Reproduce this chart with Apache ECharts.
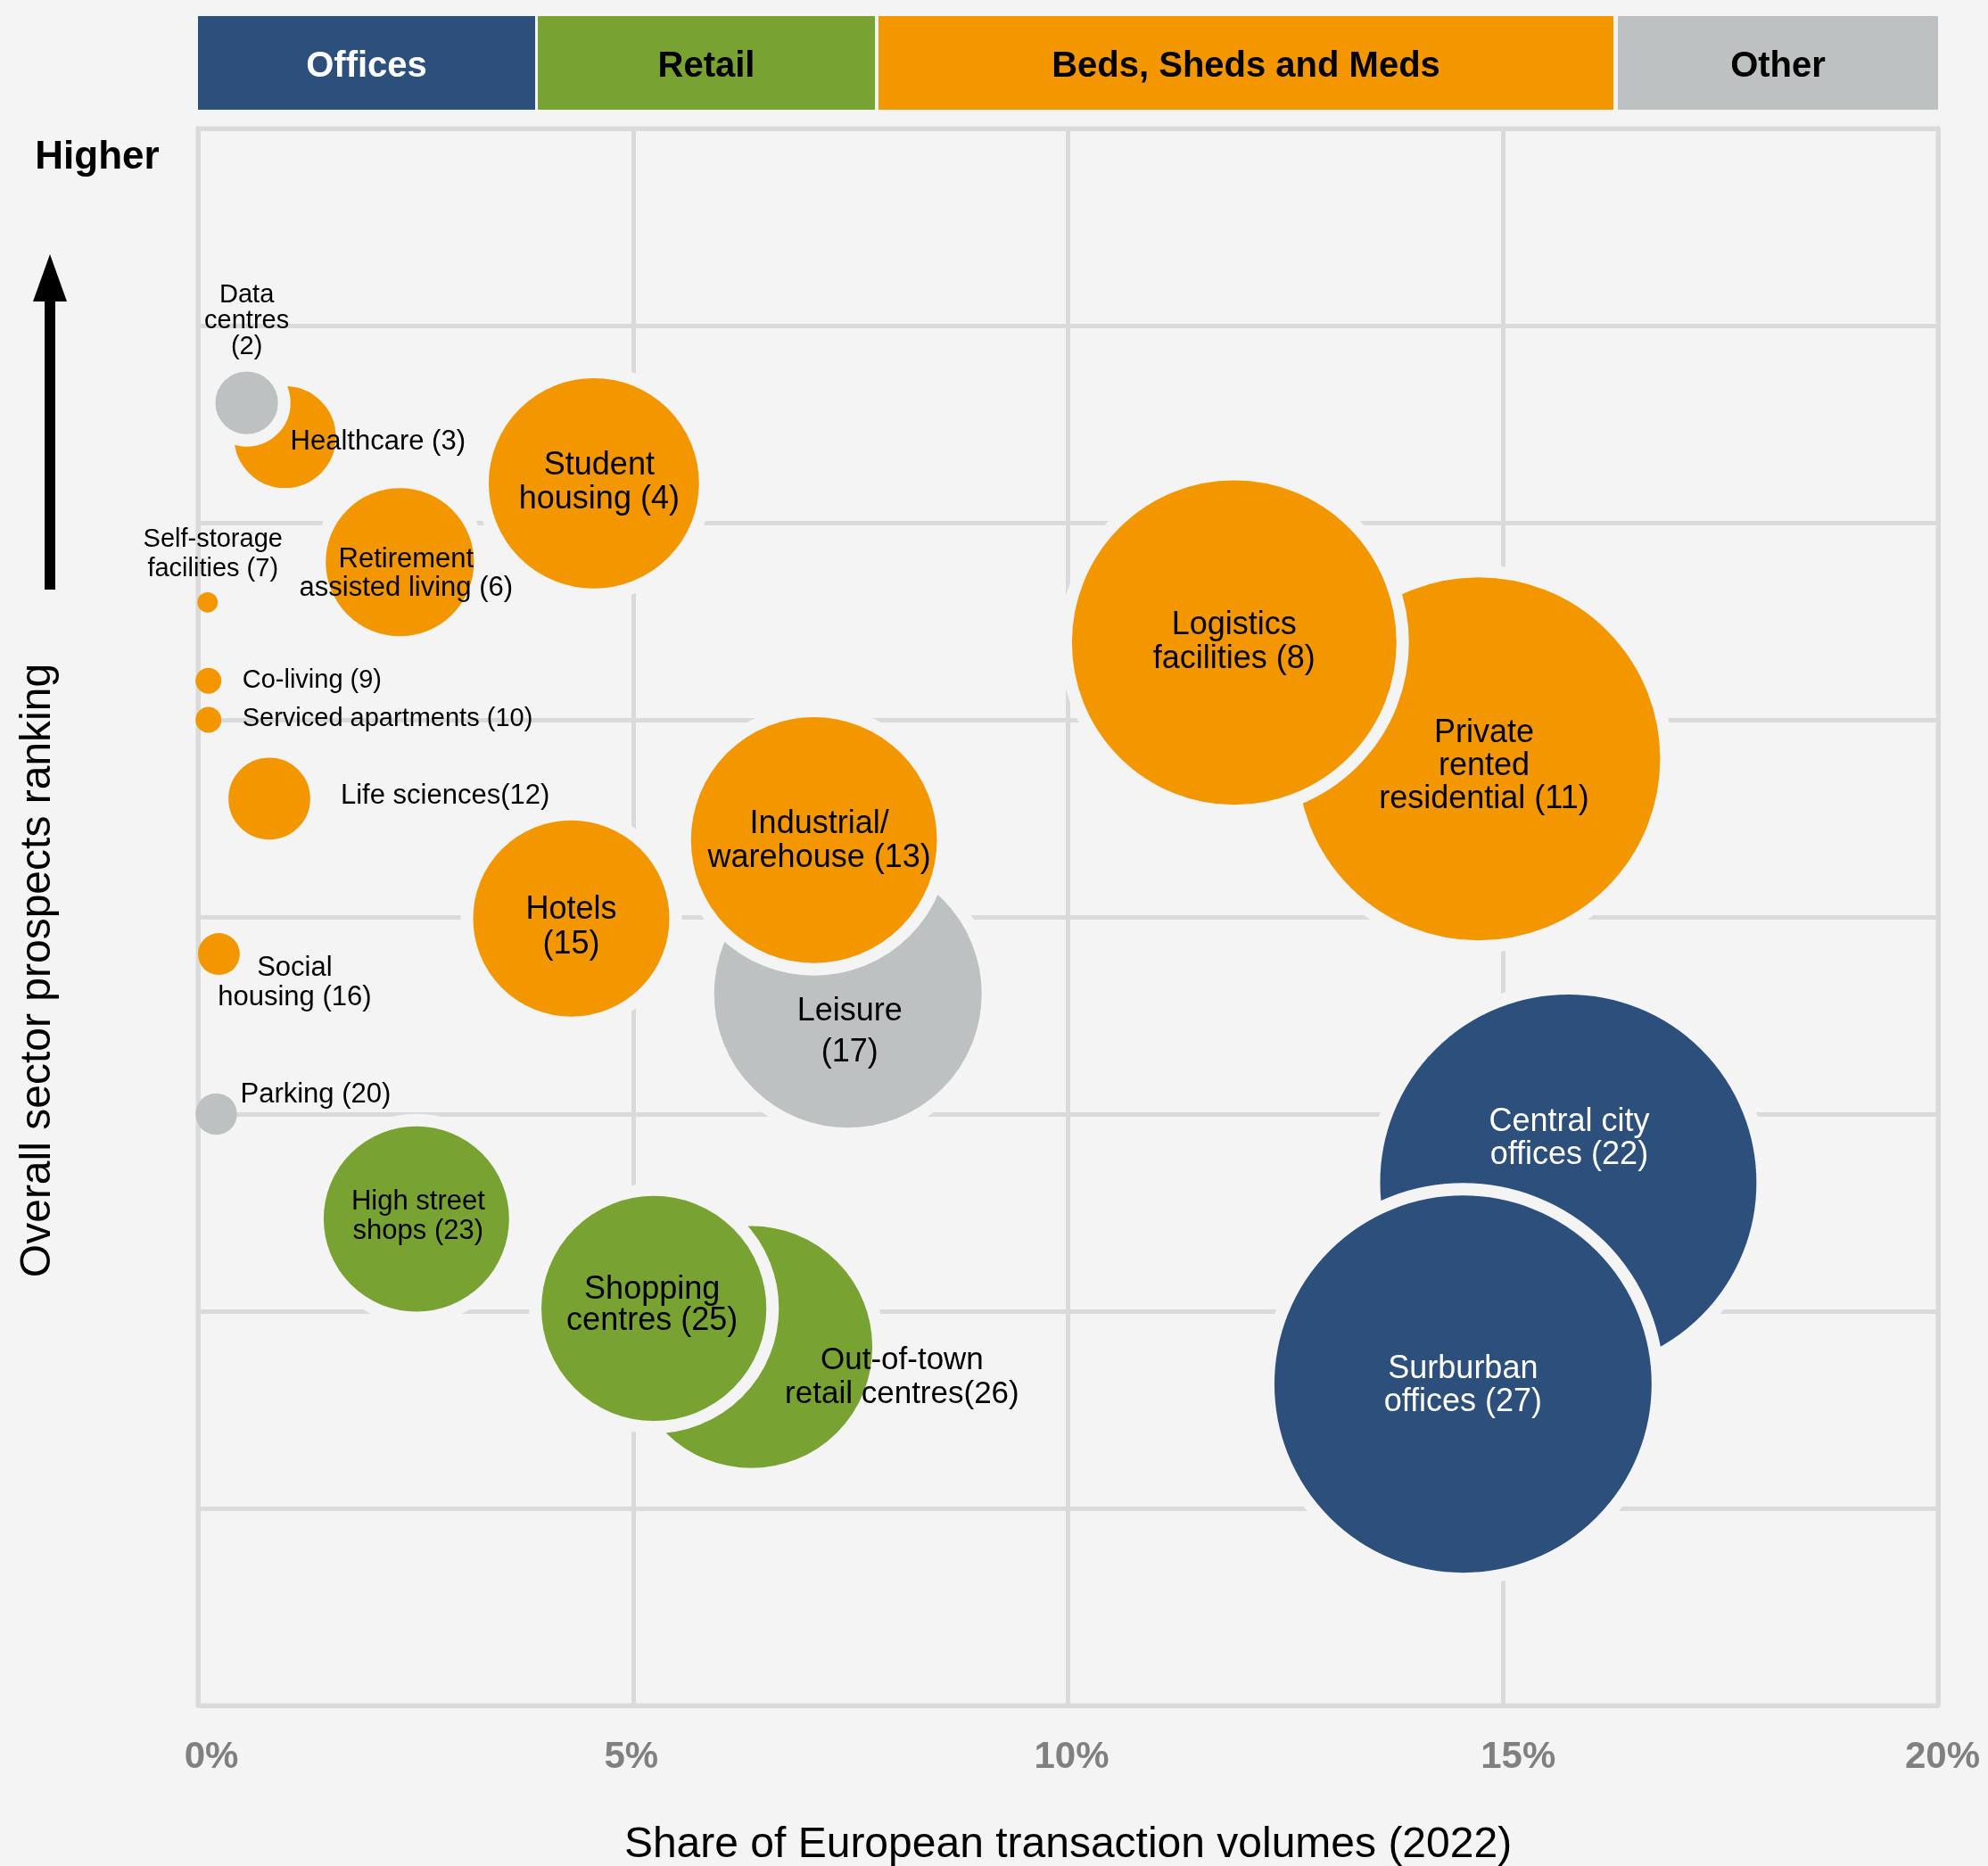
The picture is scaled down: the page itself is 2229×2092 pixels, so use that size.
<!DOCTYPE html>
<html>
<head>
<meta charset="utf-8">
<script src="https://cdn.jsdelivr.net/npm/echarts@6/dist/echarts.min.js"></script>
<style>
  html, body { margin: 0; padding: 0; background: #f4f4f4; }
  #chart { width: 2229px; height: 2092px; }
</style>
</head>
<body>
<div id="chart"></div>
<script>
// sectors, drawn in this order (later ones sit on top)
const sectorLabels = [
    'Self-storage\nfacilities (7)',
    'Co-living (9)',
    'Serviced apartments (10)',
    'Life sciences(12)',
    'Social\nhousing (16)',
    'Parking (20)',
    'Healthcare (3)',
    'Data\ncentres\n(2)',
    'Student\nhousing (4)',
    'Retirement\nassisted living (6)',
    'Private\nrented\nresidential (11)',
    'Logistics\nfacilities (8)',
    'Leisure\n(17)',
    'Industrial/\nwarehouse (13)',
    'Hotels\n(15)',
    'High street\nshops (23)',
    'Out-of-town\nretail centres(26)',
    'Shopping\ncentres (25)',
    'Central city\noffices (22)',
    'Surburban\noffices (27)'
];
const sectorGroup = [
    'Beds', 'Beds', 'Beds', 'Beds', 'Beds', 'Other', 'Beds', 'Other', 'Beds', 'Beds',
    'Beds', 'Beds', 'Other', 'Beds', 'Beds', 'Retail', 'Retail', 'Retail', 'Offices', 'Offices'
];
// share of European transaction volumes (%)
const volumeShare = [
    0.11, 0.12, 0.12, 0.82, 0.24, 0.21, 1.0, 0.56, 4.55, 2.32,
    14.72, 11.91, 7.47, 7.08, 4.29, 2.51, 6.36, 5.24, 15.75, 14.54
];
// overall prospects ranking
const prospectsRank = [
    7.02, 9.01, 10.0, 12.0, 15.94, 20.0, 2.83, 1.96, 4.0, 6.0,
    10.99, 8.04, 16.95, 13.05, 15.04, 22.66, 25.91, 24.93, 21.74, 26.85
];
// bubble size value
const bubbleValue = [
    1.3, 2.1, 2.1, 21, 5.5, 5.4, 32.5, 12.3, 139, 69,
    414, 331, 225, 190, 121, 108, 184, 159, 445, 447
];
const xTicks = [0, 5, 10, 15, 20];

const groupColors = {
    Offices: '#2c4f7c',
    Retail: '#78a232',
    Beds: '#f39700',
    Other: '#bec1c2'
};

// label placement for each sector (same order as above)
const labelLayout = [
    { size: 29, lh: 33, offset: [6, -54] },
    { size: 29, align: 'left', offset: [38, 0] },
    { size: 29, align: 'left', offset: [38, -1] },
    { size: 31, align: 'left', offset: [80, -3] },
    { size: 31, lh: 33, offset: [85, 32] },
    { size: 31, align: 'left', offset: [27, -22] },
    { size: 31, align: 'left', offset: [6, 5] },
    { size: 29, lh: 29, offset: [0, -92] },
    { size: 36, lh: 38, offset: [6, -1] },
    { size: 31, lh: 32, offset: [7, 13] },
    { size: 36, lh: 37, offset: [6, 8] },
    { size: 36, lh: 38, offset: [0, 0] },
    { size: 36, lh: 46, offset: [2, 43] },
    { size: 36, lh: 38, offset: [6, 1] },
    { size: 36, lh: 39, offset: [0, 10] },
    { size: 31, lh: 33, offset: [2, -3] },
    { size: 35, lh: 38, offset: [169, 34] },
    { size: 36, lh: 35, offset: [-2, -3] },
    { size: 36, lh: 37, offset: [1, -49], color: '#ffffff' },
    { size: 36, lh: 37, offset: [0, 2], color: '#ffffff' }
];

// x tick label nudges (as in the original artwork)
const tickNudge = { 0: 15, 5: -2, 10: 4, 15: 17, 20: 5 };

const FONT = "'Liberation Sans', Arial, Helvetica, sans-serif";
const BG = '#f4f4f4';
const BORDER = 14;

const chartDom = document.getElementById('chart');
const myChart = echarts.init(chartDom);

function borderFor(v) {
    return v < 10 ? 0 : BORDER;
}

const seriesData = sectorLabels.map((label, i) => {
    const lay = labelLayout[i];
    return {
        name: label,
        value: [volumeShare[i], prospectsRank[i], bubbleValue[i]],
        itemStyle: {
            color: groupColors[sectorGroup[i]],
            borderColor: BG,
            borderWidth: borderFor(bubbleValue[i])
        },
        label: {
            show: true,
            formatter: label,
            position: 'inside',
            align: lay.align || 'center',
            verticalAlign: 'middle',
            offset: lay.offset,
            fontSize: lay.size,
            lineHeight: lay.lh || lay.size,
            color: lay.color || '#000000',
            fontFamily: FONT
        }
    };
});

// header bars
const headerBars = [
    { name: 'Offices', x0: 222, x1: 600, color: groupColors.Offices, text: '#ffffff' },
    { name: 'Retail', x0: 603, x1: 981, color: groupColors.Retail, text: '#000000' },
    { name: 'Beds, Sheds and Meds', x0: 985, x1: 1809, color: groupColors.Beds, text: '#000000' },
    { name: 'Other', x0: 1814, x1: 2173, color: groupColors.Other, text: '#000000' }
];
const graphics = [];
headerBars.forEach(b => {
    graphics.push({
        type: 'rect',
        shape: { x: b.x0, y: 18, width: b.x1 - b.x0, height: 105 },
        style: { fill: b.color }
    });
    graphics.push({
        type: 'text',
        x: (b.x0 + b.x1) / 2,
        y: 75,
        style: {
            text: b.name,
            fill: b.text,
            font: 'bold 40px ' + FONT,
            textAlign: 'center',
            textVerticalAlign: 'middle'
        }
    });
});
graphics.push(
    {
        type: 'text', x: 109, y: 177,
        style: { text: 'Higher', fill: '#000', font: 'bold 44px ' + FONT, textAlign: 'center', textVerticalAlign: 'middle' }
    },
    {
        type: 'line',
        shape: { x1: 56, y1: 661, x2: 56, y2: 330 },
        style: { stroke: '#000', lineWidth: 12 }
    },
    {
        type: 'polygon',
        shape: { points: [[37, 338], [75, 338], [56, 285]] },
        style: { fill: '#000' }
    },
    {
        type: 'text', x: 43, y: 1088, rotation: Math.PI / 2,
        style: {
            text: 'Overall sector prospects ranking', fill: '#000',
            font: '48px ' + FONT, textAlign: 'center', textVerticalAlign: 'middle'
        }
    }
);

const tickRich = {};
xTicks.forEach(t => {
    const d = tickNudge[t] || 0;
    tickRich['t' + t] = {
        color: '#808080',
        fontWeight: 'bold',
        fontSize: 42,
        fontFamily: FONT,
        padding: d >= 0 ? [0, 0, 0, 2 * d] : [0, -2 * d, 0, 0]
    };
});

const option = {
    backgroundColor: BG,
    animation: false,
    grid: {
        left: 222, right: 56, top: 144, bottom: 180,
        containLabel: false,
        outerBoundsMode: 'none',
        show: true, borderColor: '#dadada', borderWidth: 5, backgroundColor: 'transparent'
    },
    xAxis: {
        type: 'value',
        min: xTicks[0],
        max: xTicks[xTicks.length - 1],
        interval: 5,
        axisLine: { show: false },
        axisTick: { show: false },
        splitLine: { lineStyle: { color: '#dadada', width: 5 } },
        axisLabel: {
            formatter: function (v) {
                return '{t' + v + '|' + v + '%}';
            },
            rich: tickRich,
            margin: 37
        },
        name: 'Share of European transaction volumes (2022)',
        nameLocation: 'middle',
        nameGap: 133,
        nameTextStyle: { fontSize: 48, color: '#000', fontFamily: FONT }
    },
    yAxis: {
        type: 'value',
        inverse: true,
        min: -5,
        max: 35,
        interval: 5,
        axisLine: { show: false },
        axisTick: { show: false },
        axisLabel: { show: false },
        splitLine: { lineStyle: { color: '#dadada', width: 5 } }
    },
    graphic: graphics,
    series: [{
        type: 'scatter',
        data: seriesData,
        symbol: 'circle',
        symbolSize: function (val) {
            return 20 * Math.sqrt(val[2]) + borderFor(val[2]);
        },
        itemStyle: { opacity: 1 },
        emphasis: { disabled: true },
        silent: true
    }]
};

myChart.setOption(option);

window.addEventListener('resize', function () {
    myChart.resize();
});
</script>
</body>
</html>
